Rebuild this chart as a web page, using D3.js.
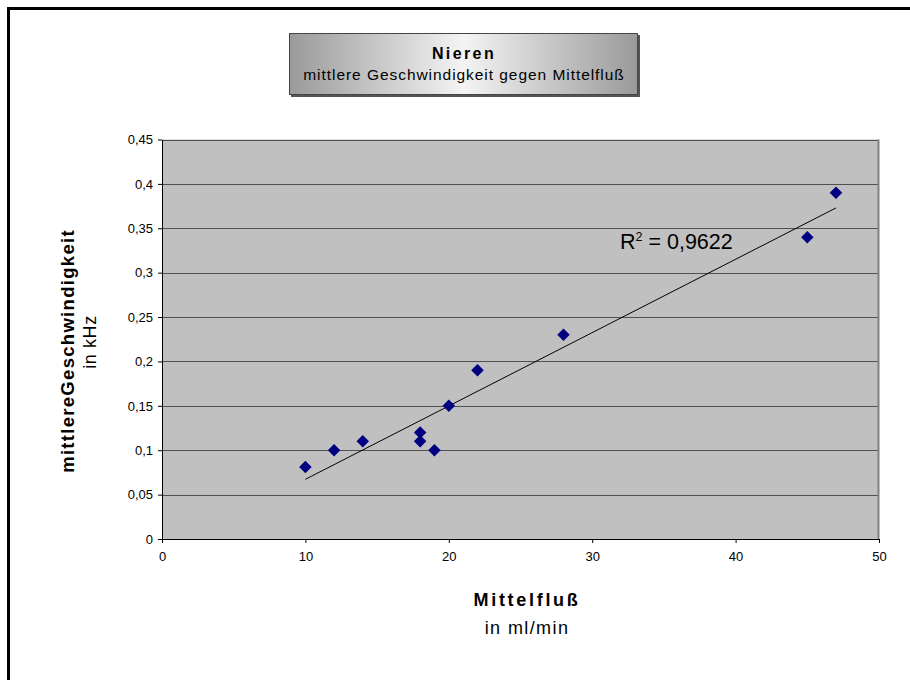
<!DOCTYPE html>
<html>
<head>
<meta charset="utf-8">
<script src="https://cdn.jsdelivr.net/npm/d3@7"></script>
<style>
  html, body { margin: 0; padding: 0; background: #fff; }
  svg { display: block; font-family: "Liberation Sans", Arial, sans-serif; }
</style>
</head>
<body>
<svg id="chart" width="910" height="680"></svg>
<script>
// Mittelfluß (ml/min) against mittlere Geschwindigkeit (kHz)
const flow = [10, 12, 14, 18, 18, 19, 20, 22, 28, 45, 47];
const speed = [0.081, 0.1, 0.11, 0.12, 0.11, 0.1, 0.15, 0.19, 0.23, 0.34, 0.39];
const xTicks = [0, 10, 20, 30, 40, 50];
const yTicks = [0, 0.05, 0.1, 0.15, 0.2, 0.25, 0.3, 0.35, 0.4, 0.45];
const rSquaredLabel = "0,9622";

const svg = d3.select("#chart");
const plot = { left: 162, top: 139.5, right: 879, bottom: 539 };

const x = d3.scaleLinear().domain([0, 50]).range([plot.left, plot.right]);
const y = d3.scaleLinear().domain([0, 0.45]).range([plot.bottom, plot.top]);
const fmt = d => String(d).replace(".", ",");

// outer frame (only left and top edges fall inside the page)
svg.append("rect").attr("x", 8.5).attr("y", 8.5).attr("width", 920).attr("height", 700)
  .attr("fill", "none").attr("stroke", "#000").attr("stroke-width", 3);

// title box with horizontal grey gradient
const defs = svg.append("defs");
const grad = defs.append("linearGradient").attr("id", "titleGrad")
  .attr("x1", "0%").attr("x2", "100%").attr("y1", "0%").attr("y2", "0%");
grad.append("stop").attr("offset", "0%").attr("stop-color", "#9a9a9a");
grad.append("stop").attr("offset", "50%").attr("stop-color", "#f4f4f4");
grad.append("stop").attr("offset", "100%").attr("stop-color", "#9a9a9a");

svg.append("rect").attr("x", 291).attr("y", 35).attr("width", 349).attr("height", 62)
  .attr("fill", "#555");
svg.append("rect").attr("x", 289.5).attr("y", 33.5).attr("width", 348).attr("height", 61)
  .attr("fill", "url(#titleGrad)").attr("stroke", "#444").attr("stroke-width", 1);
svg.append("text").attr("x", 464).attr("y", 59).attr("text-anchor", "middle")
  .attr("font-size", 16).attr("font-weight", "bold").attr("letter-spacing", 2.4)
  .text("Nieren");
svg.append("text").attr("x", 464).attr("y", 80).attr("text-anchor", "middle")
  .attr("font-size", 15.5).attr("letter-spacing", 0.95)
  .text("mittlere Geschwindigkeit gegen Mittelfluß");

// plot area
svg.append("rect").attr("x", plot.left).attr("y", plot.top)
  .attr("width", plot.right - plot.left).attr("height", plot.bottom - plot.top)
  .attr("fill", "#c0c0c0");

// horizontal gridlines
svg.append("g").selectAll("line").data(yTicks.filter(d => d > 0)).join("line")
  .attr("x1", plot.left).attr("x2", plot.right)
  .attr("y1", d => Math.round(y(d)) + 0.5).attr("y2", d => Math.round(y(d)) + 0.5)
  .attr("stroke", "#505050").attr("stroke-width", 1);

// right border of plot area
svg.append("line").attr("x1", plot.right - 0.5).attr("x2", plot.right - 0.5)
  .attr("y1", plot.top).attr("y2", plot.bottom)
  .attr("stroke", "#808080").attr("stroke-width", 2);

// axes
const xAxis = d3.axisBottom(x).tickValues(xTicks).tickFormat(fmt)
  .tickSizeInner(4).tickSizeOuter(0).tickPadding(9);
const gx = svg.append("g").attr("transform", `translate(0,${plot.bottom})`).call(xAxis);
gx.select(".domain").attr("stroke", "#000");
gx.selectAll(".tick line").attr("stroke", "#000");
gx.selectAll("text").attr("font-size", 13).attr("font-family", "Liberation Sans, Arial, sans-serif")
  .attr("fill", "#000");

const yAxis = d3.axisLeft(y).tickValues(yTicks).tickFormat(fmt)
  .tickSizeInner(4).tickSizeOuter(0).tickPadding(5);
const gy = svg.append("g").attr("transform", `translate(${plot.left},0)`).call(yAxis);
gy.select(".domain").attr("stroke", "#000");
gy.selectAll(".tick line").attr("stroke", "#000");
gy.selectAll("text").attr("font-size", 13).attr("font-family", "Liberation Sans, Arial, sans-serif")
  .attr("fill", "#000");

// least-squares trendline over the data range
const mx = d3.mean(flow), my = d3.mean(speed);
const sxy = d3.sum(flow, (v, i) => (v - mx) * (speed[i] - my));
const sxx = d3.sum(flow, v => (v - mx) ** 2);
const slope = sxy / sxx, intercept = my - slope * mx;
const [x0, x1] = d3.extent(flow);
svg.append("line")
  .attr("x1", x(x0)).attr("y1", y(intercept + slope * x0))
  .attr("x2", x(x1)).attr("y2", y(intercept + slope * x1))
  .attr("stroke", "#000").attr("stroke-width", 1);

// diamond markers
const diamond = d3.symbol().type(d3.symbolDiamond2).size(100);
svg.append("g").selectAll("path").data(flow.map((f, i) => [f, speed[i]])).join("path")
  .attr("d", diamond)
  .attr("transform", d => `translate(${x(d[0])},${y(d[1])})`)
  .attr("fill", "#000080");

// R² label
const r2 = svg.append("text").attr("x", 620).attr("y", 249).attr("font-size", 21.5);
r2.append("tspan").text("R");
r2.append("tspan").attr("font-size", 12.5).attr("dy", -8).text("2");
r2.append("tspan").attr("dy", 8).text(" = " + rSquaredLabel);

// axis titles
svg.append("text").attr("x", 527).attr("y", 606).attr("text-anchor", "middle")
  .attr("font-size", 18).attr("font-weight", "bold").attr("letter-spacing", 2.7)
  .text("Mittelfluß");
svg.append("text").attr("x", 527).attr("y", 634).attr("text-anchor", "middle")
  .attr("font-size", 18).attr("letter-spacing", 1.4)
  .text("in ml/min");

svg.append("text").attr("transform", "translate(74,351) rotate(-90)")
  .attr("text-anchor", "middle").attr("font-size", 18.5).attr("font-weight", "bold")
  .attr("letter-spacing", 1.3)
  .text("mittlereGeschwindigkeit");
svg.append("text").attr("transform", "translate(96,342) rotate(-90)")
  .attr("text-anchor", "middle").attr("font-size", 18).attr("letter-spacing", 0.6)
  .text("in kHz");
</script>
</body>
</html>
